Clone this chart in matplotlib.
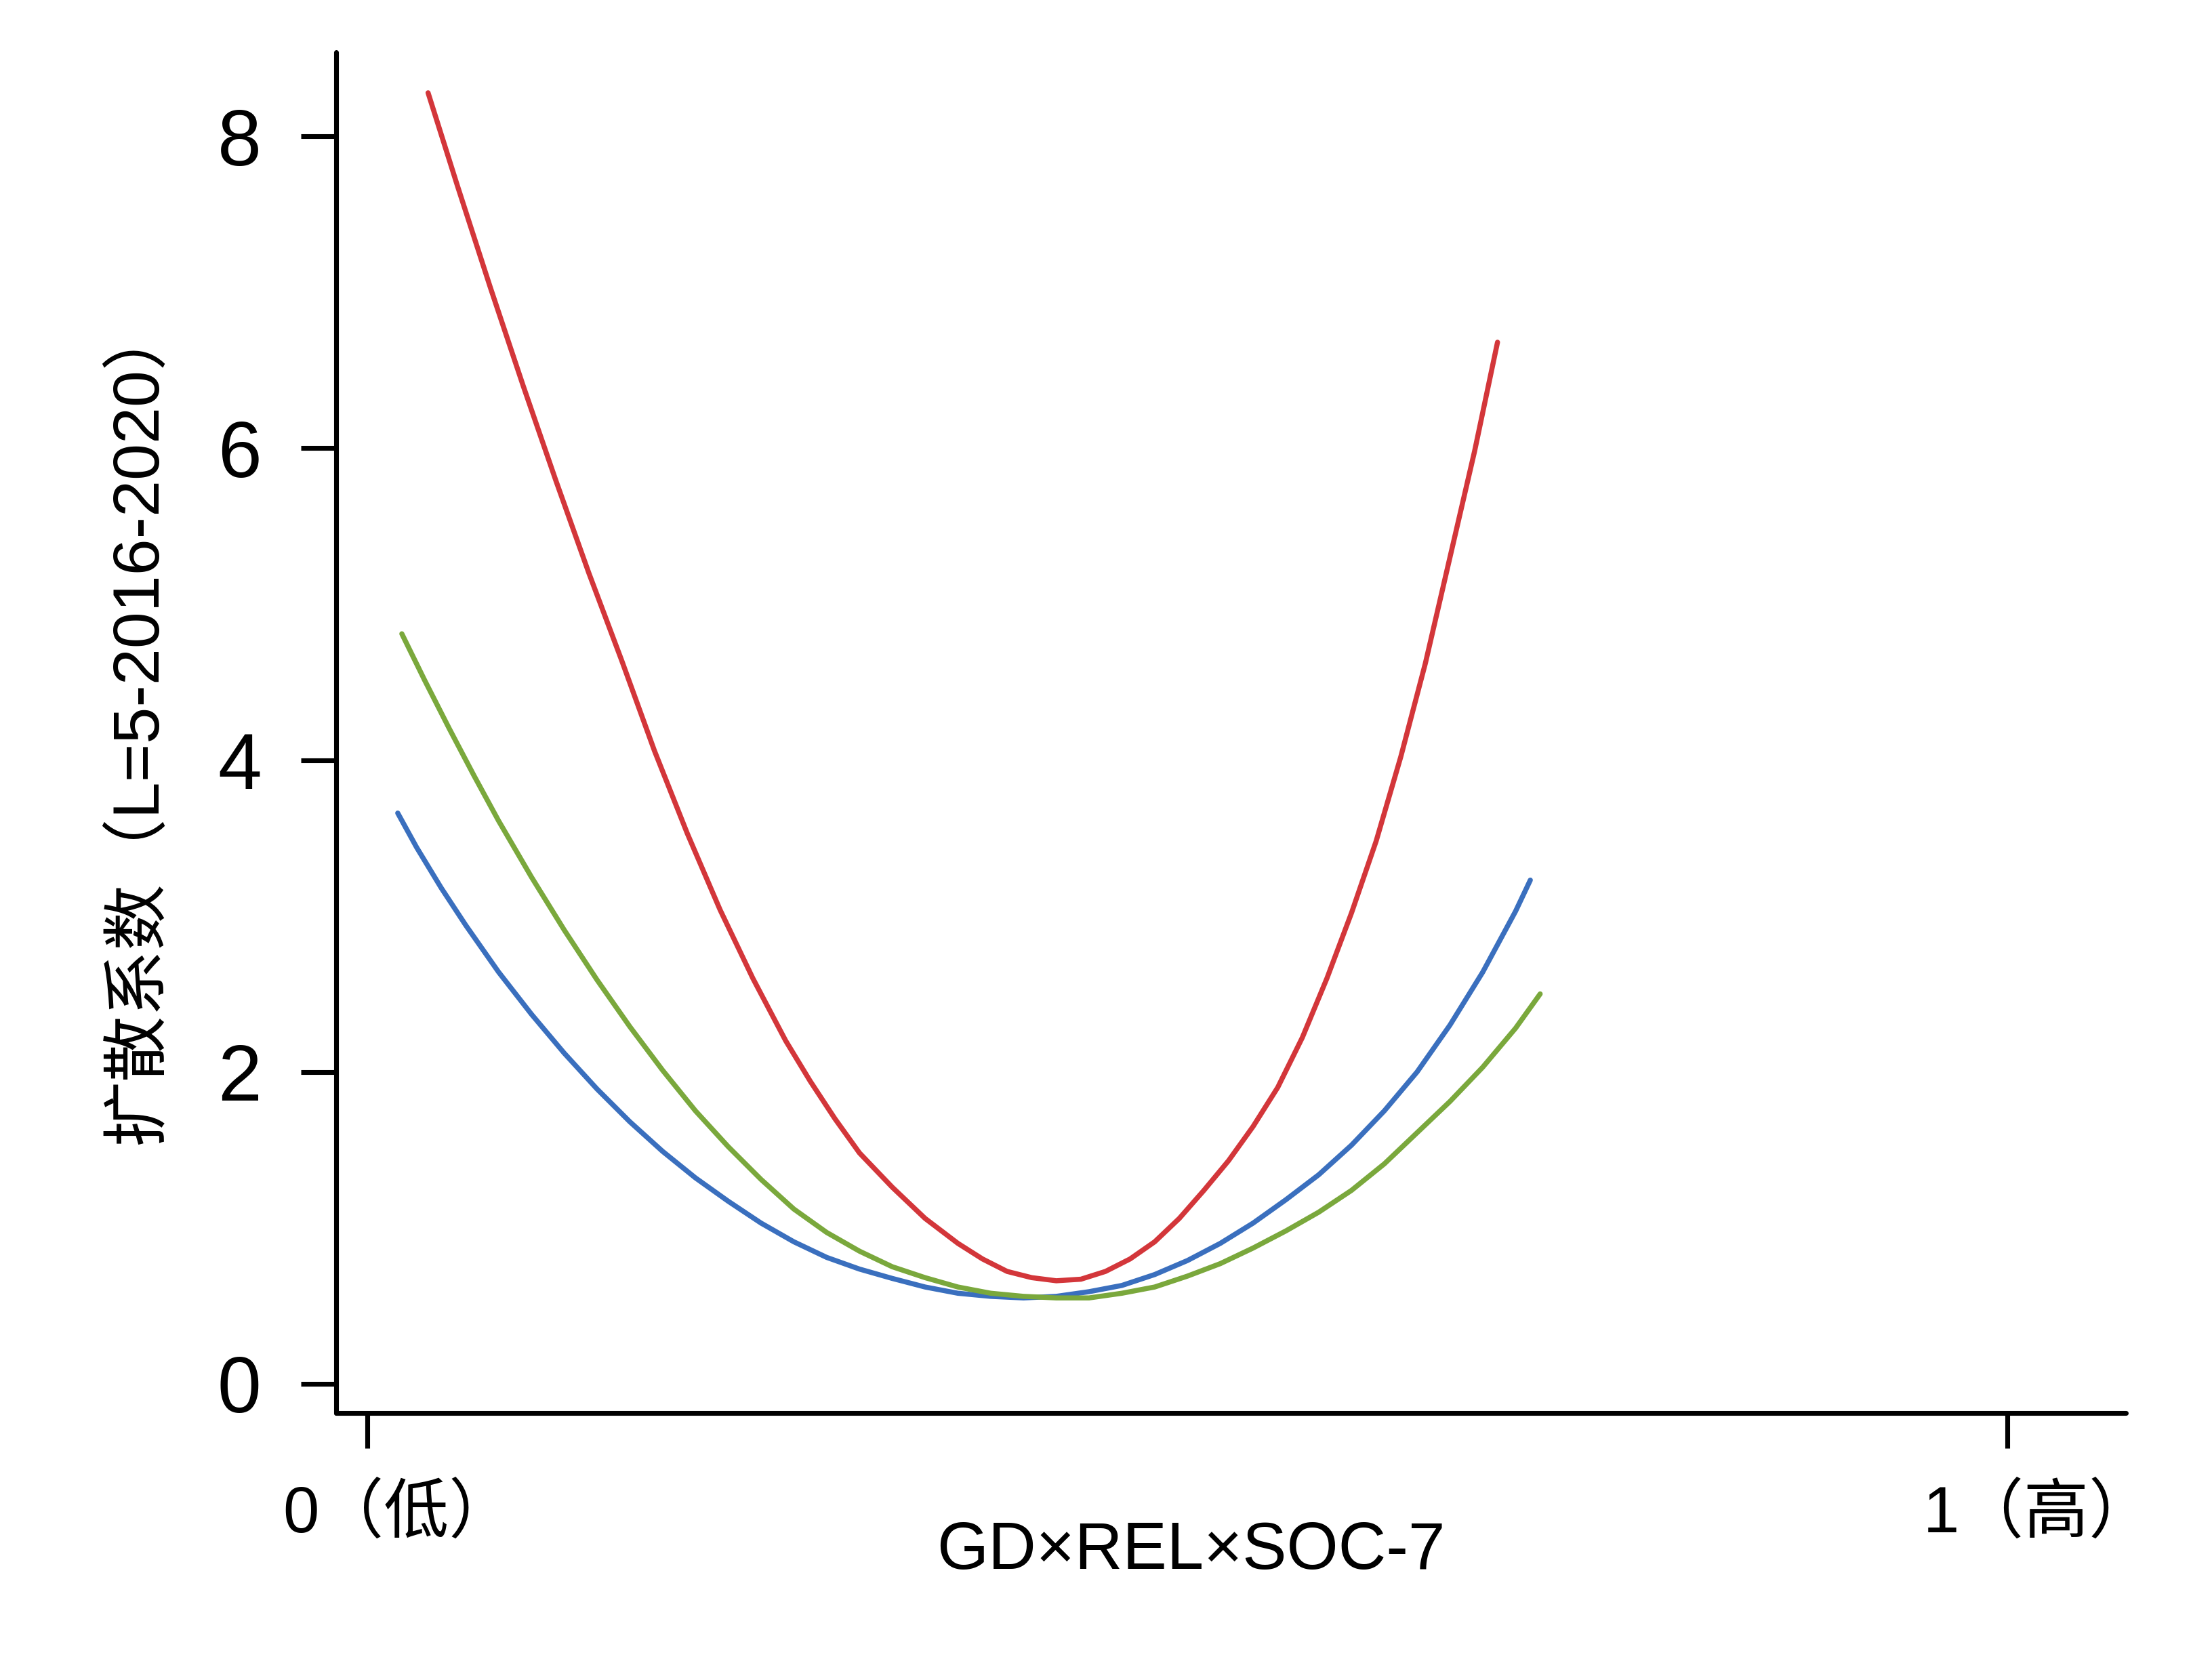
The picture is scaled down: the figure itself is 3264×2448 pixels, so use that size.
import matplotlib
matplotlib.use("Agg")
import matplotlib.pyplot as plt
from matplotlib.transforms import ScaledTranslation

plt.rcParams['font.family'] = ['Liberation Sans', 'Noto Sans CJK SC', 'DejaVu Sans']

# curve values (x: 0 = low, 1 = high)
red_x = [0.037, 0.055, 0.075, 0.095, 0.115, 0.135, 0.155, 0.175, 0.195, 0.215,
         0.235, 0.255, 0.270, 0.285, 0.300, 0.320, 0.340, 0.360, 0.375, 0.390,
         0.405, 0.420, 0.435, 0.450, 0.465, 0.480, 0.495, 0.510, 0.525, 0.540,
         0.555, 0.570, 0.585, 0.600, 0.615, 0.630, 0.645, 0.660, 0.675, 0.689]
red_y = [8.28, 7.68, 7.03, 6.40, 5.79, 5.20, 4.64, 4.06, 3.53, 3.04,
         2.60, 2.20, 1.94, 1.70, 1.48, 1.26, 1.06, 0.90, 0.80, 0.72,
         0.68, 0.66, 0.67, 0.72, 0.80, 0.91, 1.06, 1.24, 1.43, 1.65,
         1.90, 2.22, 2.60, 3.02, 3.48, 4.02, 4.62, 5.30, 5.98, 6.68]

blue_x = [0.0185, 0.030, 0.045, 0.060, 0.080, 0.100, 0.120, 0.140, 0.160, 0.180,
          0.200, 0.220, 0.240, 0.260, 0.280, 0.300, 0.320, 0.340, 0.360, 0.380,
          0.400, 0.420, 0.440, 0.460, 0.480, 0.500, 0.520, 0.540, 0.560, 0.580,
          0.600, 0.620, 0.640, 0.660, 0.680, 0.700, 0.709]
blue_y = [3.66, 3.44, 3.18, 2.94, 2.64, 2.37, 2.12, 1.89, 1.68, 1.49,
          1.32, 1.17, 1.03, 0.91, 0.81, 0.735, 0.675, 0.62, 0.58, 0.56,
          0.55, 0.56, 0.59, 0.63, 0.70, 0.79, 0.90, 1.03, 1.18, 1.34,
          1.53, 1.75, 2.00, 2.30, 2.64, 3.03, 3.23]

green_x = [0.021, 0.035, 0.050, 0.065, 0.080, 0.100, 0.120, 0.140, 0.160, 0.180,
           0.200, 0.220, 0.240, 0.260, 0.280, 0.300, 0.320, 0.340, 0.360, 0.380,
           0.400, 0.420, 0.440, 0.460, 0.480, 0.500, 0.520, 0.540, 0.560, 0.580,
           0.600, 0.620, 0.640, 0.660, 0.680, 0.700, 0.715]
green_y = [4.81, 4.51, 4.20, 3.90, 3.61, 3.25, 2.91, 2.59, 2.29, 2.01,
           1.75, 1.52, 1.31, 1.12, 0.97, 0.85, 0.75, 0.68, 0.62, 0.58,
           0.56, 0.55, 0.55, 0.58, 0.62, 0.69, 0.77, 0.87, 0.98, 1.10,
           1.24, 1.41, 1.61, 1.81, 2.03, 2.28, 2.50]

y_ticks = [0, 2, 4, 6, 8]
x_ticks = [0, 1]
x_tick_labels = ['0（低）', '1（高）']
x_label = 'GD×REL×SOC-7'
y_label = '扩散系数（L=5-2016-2020）'

fig = plt.figure(figsize=(10.88, 8.16), dpi=300)
ax = fig.add_axes([0.152, 0.1483, 0.809, 0.8202])

lw = 1.8
style = dict(lw=lw, solid_capstyle='round', solid_joinstyle='round')
ax.plot(red_x, red_y, color='#D3363A', **style)
ax.plot(blue_x, blue_y, color='#3A6FBE', **style)
ax.plot(green_x, green_y, color='#7AA83C', **style)

ax.set_xlim(-0.019, 1.072)
ax.set_ylim(-0.188, 8.54)

for side in ['top', 'right']:
    ax.spines[side].set_visible(False)
for side in ['left', 'bottom']:
    ax.spines[side].set_linewidth(1.7)
    ax.spines[side].set_capstyle('round')

ax.set_yticks(y_ticks)
ax.set_yticklabels([str(v) for v in y_ticks], fontsize=28)
ax.set_xticks(x_ticks)
ax.set_xticklabels(x_tick_labels, fontsize=23)
ax.tick_params(axis='both', length=12.5, width=1.7, direction='out')
ax.tick_params(axis='y', pad=14)
ax.tick_params(axis='x', pad=12.5)

# nudge the x tick labels right a little, as in the original
shift = ScaledTranslation(11 / 72, 0, fig.dpi_scale_trans)
for lab in ax.get_xticklabels():
    lab.set_transform(lab.get_transform() + shift)

ax.set_xlabel(x_label, fontsize=23.5)
ax.xaxis.set_label_coords(0.4775, -0.079)
ax.set_ylabel(y_label, fontsize=23.3)
ax.yaxis.set_label_coords(-0.093, 0.507)

fig.savefig('out.png', dpi=300, facecolor='white')
